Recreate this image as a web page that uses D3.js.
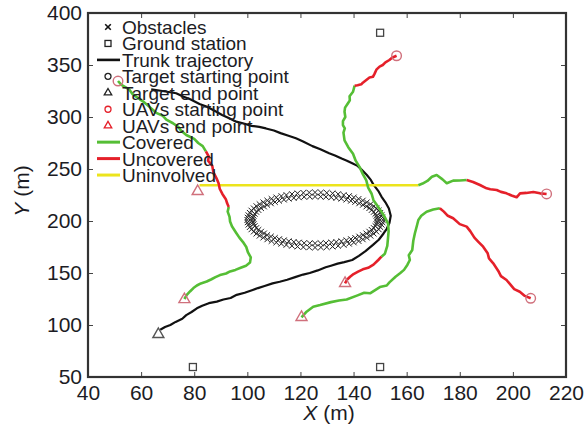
<!DOCTYPE html>
<html>
<head>
<meta charset="utf-8">
<script src="https://cdn.jsdelivr.net/npm/d3@7"></script>
<style>
  body { margin: 0; background: #fff; }
  svg { display: block; font-family: "Liberation Sans", Arial, sans-serif; }
</style>
</head>
<body>
<script>
// obstacle ring, outer and inner rows of x markers
var obstaclesOuter = [
  [151.0,201.0],[150.9,203.3],[150.6,205.6],[150.1,207.9],[149.5,210.1],[148.6,212.2],[147.6,214.3],[146.4,216.2],[145.0,218.0],
  [143.5,219.7],[141.9,221.3],[140.1,222.7],[138.3,224.0],[136.3,225.0],[134.2,225.9],[132.1,226.6],[129.9,227.1],[127.7,227.4],
  [125.5,227.5],[123.3,227.4],[121.1,227.1],[118.9,226.6],[116.8,225.9],[114.7,225.0],[112.8,224.0],[110.9,222.7],[109.1,221.3],
  [107.5,219.7],[106.0,218.0],[104.6,216.2],[103.4,214.3],[102.4,212.2],[101.5,210.1],[100.9,207.9],[100.4,205.6],[100.1,203.3],
  [100.0,201.0],[100.1,198.7],[100.4,196.4],[100.9,194.1],[101.5,191.9],[102.4,189.8],[103.4,187.8],[104.6,185.8],[106.0,184.0],
  [107.5,182.3],[109.1,180.7],[110.9,179.3],[112.8,178.1],[114.7,177.0],[116.8,176.1],[118.9,175.4],[121.1,174.9],[123.3,174.6],
  [125.5,174.5],[127.7,174.6],[129.9,174.9],[132.1,175.4],[134.2,176.1],[136.3,177.0],[138.3,178.1],[140.1,179.3],[141.9,180.7],
  [143.5,182.3],[145.0,184.0],[146.4,185.8],[147.6,187.8],[148.6,189.8],[149.5,191.9],[150.1,194.1],[150.6,196.4],[150.9,198.7]
];
var obstaclesInner = [
  [149.0,201.0],[148.9,203.0],[148.6,204.9],[148.2,206.8],[147.6,208.7],[146.8,210.5],[145.9,212.3],[144.8,213.9],[143.5,215.5],
  [142.1,216.9],[140.6,218.2],[139.0,219.4],[137.3,220.5],[135.4,221.4],[133.5,222.1],[131.6,222.7],[129.6,223.2],[127.6,223.4],
  [125.5,223.5],[123.5,223.4],[121.4,223.2],[119.4,222.7],[117.5,222.1],[115.6,221.4],[113.8,220.5],[112.0,219.4],[110.4,218.2],
  [108.9,216.9],[107.5,215.5],[106.3,213.9],[105.2,212.3],[104.2,210.5],[103.4,208.7],[102.8,206.8],[102.4,204.9],[102.1,203.0],
  [102.0,201.0],[102.1,199.0],[102.4,197.1],[102.8,195.2],[103.4,193.3],[104.2,191.5],[105.2,189.8],[106.3,188.1],[107.5,186.5],
  [108.9,185.1],[110.4,183.8],[112.0,182.6],[113.8,181.5],[115.6,180.6],[117.5,179.9],[119.4,179.3],[121.4,178.8],[123.5,178.6],
  [125.5,178.5],[127.6,178.6],[129.6,178.8],[131.6,179.3],[133.5,179.9],[135.4,180.6],[137.3,181.5],[139.0,182.6],[140.6,183.8],
  [142.1,185.1],[143.5,186.5],[144.8,188.1],[145.9,189.8],[146.8,191.5],[147.6,193.3],[148.2,195.2],[148.6,197.1],[148.9,199.0]
];
var groundStations = [[150,381],[79.5,59.6],[150,59.6]];

var trunk = [
  [63.8,326.6],[68,325],[73.2,322.8],[76,319.5],[78.5,317],[82,312.5],[84.6,310],[88,305.5],[90.5,302],[93,299],[95.8,295.5],
  [99,293.5],[101.5,291.5],[104.5,290.5],[107,289],[110,287],[112.5,284.5],[115.5,282],[118.3,279.5],[121,276.5],[124.5,272],
  [127.5,269],[130.8,265.1],[133,263],[135.5,260],[137.5,258],[139.5,255.5],[141.5,253],[143,249.5],[145,244.2],[146.5,239.5],
  [147.5,235],[149.5,228.2],[150.5,223.5],[152,218],[153.3,212],[154,205],[153.5,198],[152.5,192.5],[151.3,188],[149.5,182],
  [147.3,177],[144.5,171],[142,166.5],[139.5,162.5],[136.5,160.5],[134,159],[131.5,157],[129.5,155.5],[126.5,152.5],[123.5,150],
  [121,148.5],[118,146],[115,143.5],[112.2,141.6],[109.5,140],[106.5,137.5],[104,135.5],[102,133.7],[99,131],[96,129],[93.7,126],
  [91,124.5],[88.5,122.5],[85.5,121],[83,118.5],[81,116],[79,112.5],[77,109.5],[75.5,106],[73,103],[71,100],[69,98],[67.2,95.5]
];
var targetEnd = [66.5, 91];

var uavStarts = [[51.3,334.6],[212.7,226],[156.2,358.9],[206.7,125.7]];
var uavEnds = [[76.3,124.6],[81.3,228.5],[136.8,140.1],[120.4,107.4]];

var covered = [
  [[51.3,334.6],[52.6,330.8],[55.5,326.5],[56.8,322],[59.5,317],[61,314.5],[63.5,309],[65.7,304],[68,301.5],[69.5,297.5],
   [72,294],[74,290.5],[75,287],[77,282.7],[80,279],[81.5,275],[83.2,272],[84.4,267]],
  [[93,213.5],[92.6,209],[93.3,204],[93.5,199.5],[94.2,195],[95.7,189],[97,184],[98.3,180],[99.6,175],[100.2,170],[101.3,165],
   [101,160],[99.5,157],[97.5,155],[95.5,153],[93.5,151.5],[92,149.5],[89.7,148],[88,146],[86.5,144],[84.7,141.8],[82.5,140],
   [81,138],[79.7,135.5],[78.5,132.5],[77.2,129],[76.3,125]],
  [[182.6,239.4],[180,239],[177.5,238.8],[175.1,236.3],[173.5,240],[171.3,244.2],[169.5,242.5],[167.8,238.5],[166,236],[164.4,234.4]],
  [[140.4,330.1],[139.8,324.3],[138.5,320],[138.6,316],[137.9,313.2],[136.8,309],[136.6,305.1],[136.9,300],[136,296],[136,292.3],
   [136.7,289],[136.2,285],[136.6,277.5],[138,271],[139.8,264.6],[140.8,258],[142.3,251.8],[143.5,245],[144.8,239],[145.5,232],
   [146.8,226.2],[147.5,220],[149.3,213.4],[151.5,205],[153,197.4],[153.2,190],[153,184.5],[152.7,176],[151.8,168.6],[150.5,165.7]],
  [[172.5,212.3],[170,211],[167.5,208.9],[165.5,205],[164.4,201],[163.8,195],[163.1,188.2],[162.5,181],[162.1,172.1],[160.8,167],
   [161.2,162.5],[160.3,158],[159,153],[157.5,149.7],[155.8,146.4],[153.5,141],[152.5,138],[149.9,136.5],[146.2,130.5],[144,131],
   [141.5,128.5],[137.4,124.5],[134.5,123.5],[131.5,122],[127.4,119.2],[124.8,117.6],[122.3,112.8],[120.4,107.4]]
];
var uncovered = [
  [[84.4,267],[85.5,262],[85.2,258],[86.8,253],[87.2,247],[88.4,241],[89.2,236],[89.6,231],[90.6,226],[91.9,221],[92.4,217],[93,213.5]],
  [[212.7,226],[210.2,226.6],[207.7,227.9],[205,227],[202.7,226.6],[201.4,222.8],[199.5,224.5],[197.6,226.6],[195.5,228],
   [193.9,229.8],[191.5,230.5],[190.1,231.4],[187.6,234.6],[185,237.5],[182.6,239.4]],
  [[156.2,358.9],[154.5,357],[153.5,354.8],[152,352.5],[151,350],[149.8,348.5],[148.6,345.5],[147.8,341],[147.3,338.7],[146,338],
   [144.8,335.6],[143.5,333],[142.9,331.4],[141.5,330.5],[140.4,330.1]],
  [[150.5,165.7],[149.3,162.5],[147.5,158],[145.5,155],[143.5,153.5],[141.7,151.3],[140,149],[138.7,146.4],[137.5,143.5],[136.8,140.1]],
  [[206.7,125.7],[204.5,128],[202.6,132],[200.5,134.5],[199,139],[197.6,143.3],[195.5,147],[194.5,152],[192.6,159.3],[191,164],
   [190.5,169],[188.8,175.3],[187,180],[185.5,184],[184,190],[182.6,194.6],[180,197],[177.5,202.6],[175.5,205],[174,209],[172.5,212.3]]
];
var uninvolved = [
  [[164.4,234.4],[82,234.4]]
];

var xTicks = [40,60,80,100,120,140,160,180,200,220];
var yTicks = [50,100,150,200,250,300,350,400];
var legendLabels = ['Obstacles','Ground station','Trunk trajectory','Target starting point','Target end point',
  'UAVs starting point','UAVs end point','Covered','Uncovered','Uninvolved'];

var W = 587, H = 430;
var box = {left: 88, right: 566, top: 13, bottom: 377};
var colGreen = '#55be35', colRed = '#e5202a', colYellow = '#ece41c', colPink = '#d0707c', ink = '#1c1c24';

var svg = d3.select('body').append('svg')
  .attr('width', W)
  .attr('height', H);

svg.append('rect').attr('width', W).attr('height', H).attr('fill', '#fff');

var x = d3.scaleLinear().domain([40,220]).range([box.left, box.right]);
var y = d3.scaleLinear().domain([50,400]).range([box.bottom, box.top]);

var line = d3.line()
  .x(function(d) { return x(d[0]); })
  .y(function(d) { return y(d[1]); });

// axes, ticks point inward on all four sides
svg.append('g')
  .attr('transform', 'translate(0,' + box.bottom + ')')
  .call(d3.axisBottom(x).tickValues(xTicks).tickSizeInner(-5).tickSizeOuter(0).tickPadding(8))
  .call(function(g) {
    g.select('.domain').remove();
    g.selectAll('text').style('font-size', '21px').attr('fill', ink);
  });

svg.append('g')
  .attr('transform', 'translate(' + box.left + ',0)')
  .call(d3.axisLeft(y).tickValues(yTicks).tickSizeInner(-5).tickSizeOuter(0).tickPadding(6))
  .call(function(g) {
    g.select('.domain').remove();
    g.selectAll('text').style('font-size', '21px').attr('fill', ink);
  });

svg.append('g')
  .attr('transform', 'translate(0,' + box.top + ')')
  .call(d3.axisTop(x).tickValues(xTicks).tickSizeInner(-5).tickSizeOuter(0).tickFormat(''))
  .call(function(g) { g.select('.domain').remove(); });

svg.append('g')
  .attr('transform', 'translate(' + box.right + ',0)')
  .call(d3.axisRight(y).tickValues(yTicks).tickSizeInner(-5).tickSizeOuter(0).tickFormat(''))
  .call(function(g) { g.select('.domain').remove(); });

svg.selectAll('.tick line').attr('stroke', '#444');

// axis titles
var xt = svg.append('text')
  .attr('x', (box.left + box.right) / 2 + 2)
  .attr('y', 420)
  .attr('text-anchor', 'middle')
  .style('font-size', '21px')
  .attr('fill', ink);
xt.append('tspan').style('font-style', 'italic').text('X');
xt.append('tspan').text(' (m)');

var yt = svg.append('text')
  .attr('transform', 'translate(29,' + ((box.top + box.bottom) / 2 - 4) + ') rotate(-90)')
  .attr('text-anchor', 'middle')
  .style('font-size', '21px')
  .attr('fill', ink);
yt.append('tspan').style('font-style', 'italic').text('Y');
yt.append('tspan').text(' (m)');

var plot = svg.append('g');

// obstacles
function cross(sel, s) {
  sel.append('path')
    .attr('d', 'M' + (-s) + ',' + (-s) + 'L' + s + ',' + s + 'M' + (-s) + ',' + s + 'L' + s + ',' + (-s));
}
plot.selectAll('.obs')
  .data(obstaclesOuter.concat(obstaclesInner))
  .enter().append('g')
  .attr('class', 'obs')
  .attr('transform', function(d) { return 'translate(' + x(d[0]) + ',' + y(d[1]) + ')'; })
  .attr('stroke', '#222')
  .attr('stroke-width', 1)
  .each(function() { cross(d3.select(this), 2.8); });

// ground stations
plot.selectAll('.gs')
  .data(groundStations)
  .enter().append('rect')
  .attr('x', function(d) { return x(d[0]) - 3.5; })
  .attr('y', function(d) { return y(d[1]) - 3.5; })
  .attr('width', 7).attr('height', 7)
  .attr('fill', 'none')
  .attr('stroke', '#444')
  .attr('stroke-width', 1.3);

// trunk trajectory
plot.append('path')
  .attr('d', line(trunk))
  .attr('fill', 'none')
  .attr('stroke', '#111')
  .attr('stroke-width', 2.2)
  .attr('stroke-linejoin', 'round');

// UAV segments
function drawSegs(list, col) {
  plot.selectAll(null)
    .data(list)
    .enter().append('path')
    .attr('d', line)
    .attr('fill', 'none')
    .attr('stroke', col)
    .attr('stroke-width', 2.6)
    .attr('stroke-linejoin', 'round');
}
drawSegs(uninvolved, colYellow);
drawSegs(covered, colGreen);
drawSegs(uncovered, colRed);

function triPath(s) {
  var h = s * Math.sqrt(3) / 2;
  return 'M0,' + (-h * 2 / 3) + 'L' + (s / 2) + ',' + (h / 3) + 'L' + (-s / 2) + ',' + (h / 3) + 'Z';
}

plot.selectAll('.us')
  .data(uavStarts)
  .enter().append('circle')
  .attr('cx', function(d) { return x(d[0]); })
  .attr('cy', function(d) { return y(d[1]); })
  .attr('r', 4.8)
  .attr('fill', 'none')
  .attr('stroke', colPink)
  .attr('stroke-width', 1.4);

plot.selectAll('.ue')
  .data(uavEnds)
  .enter().append('path')
  .attr('transform', function(d) { return 'translate(' + x(d[0]) + ',' + y(d[1]) + ')'; })
  .attr('d', triPath(11))
  .attr('fill', 'none')
  .attr('stroke', colPink)
  .attr('stroke-width', 1.4);

plot.append('path')
  .attr('transform', 'translate(' + x(targetEnd[0]) + ',' + y(targetEnd[1]) + ')')
  .attr('d', triPath(11))
  .attr('fill', 'none')
  .attr('stroke', '#555')
  .attr('stroke-width', 1.4);

// legend, rows packed tightly like the original
var legend = svg.append('g');
var lgX = 108, lgY0 = 27, lgStep = 16.45;
legendLabels.forEach(function(lab, i) {
  var cy = lgY0 + i * lgStep;
  var g = legend.append('g').attr('transform', 'translate(' + lgX + ',' + cy + ')');
  if (i === 0) {
    g.append('g').attr('stroke', '#111').attr('stroke-width', 1.6).call(function(s) { cross(s, 2.8); });
  } else if (i === 1) {
    g.append('rect').attr('x', -3).attr('y', -3).attr('width', 6).attr('height', 6)
      .attr('fill', 'none').attr('stroke', '#222').attr('stroke-width', 1.3);
  } else if (i === 2) {
    g.append('line').attr('x1', -11).attr('x2', 12).attr('stroke', '#111').attr('stroke-width', 2.6);
  } else if (i === 3) {
    g.append('circle').attr('r', 3).attr('fill', 'none').attr('stroke', '#222').attr('stroke-width', 1.3);
  } else if (i === 4) {
    g.append('path').attr('d', triPath(7.5)).attr('fill', 'none').attr('stroke', '#222').attr('stroke-width', 1.3);
  } else if (i === 5) {
    g.append('circle').attr('r', 3).attr('fill', 'none').attr('stroke', colRed).attr('stroke-width', 1.3);
  } else if (i === 6) {
    g.append('path').attr('d', triPath(7.5)).attr('fill', 'none').attr('stroke', colRed).attr('stroke-width', 1.3);
  } else {
    var c = [colGreen, colRed, colYellow][i - 7];
    g.append('line').attr('x1', -11).attr('x2', 12).attr('stroke', c).attr('stroke-width', 3);
  }
  legend.append('text')
    .attr('x', 122)
    .attr('y', cy + 7)
    .style('font-size', '19px')
    .attr('fill', ink)
    .text(lab);
});

// plot frame
svg.append('rect')
  .attr('x', box.left).attr('y', box.top)
  .attr('width', box.right - box.left).attr('height', box.bottom - box.top)
  .attr('fill', 'none')
  .attr('stroke', '#333')
  .attr('stroke-width', 2.2);
</script>
</body>
</html>
